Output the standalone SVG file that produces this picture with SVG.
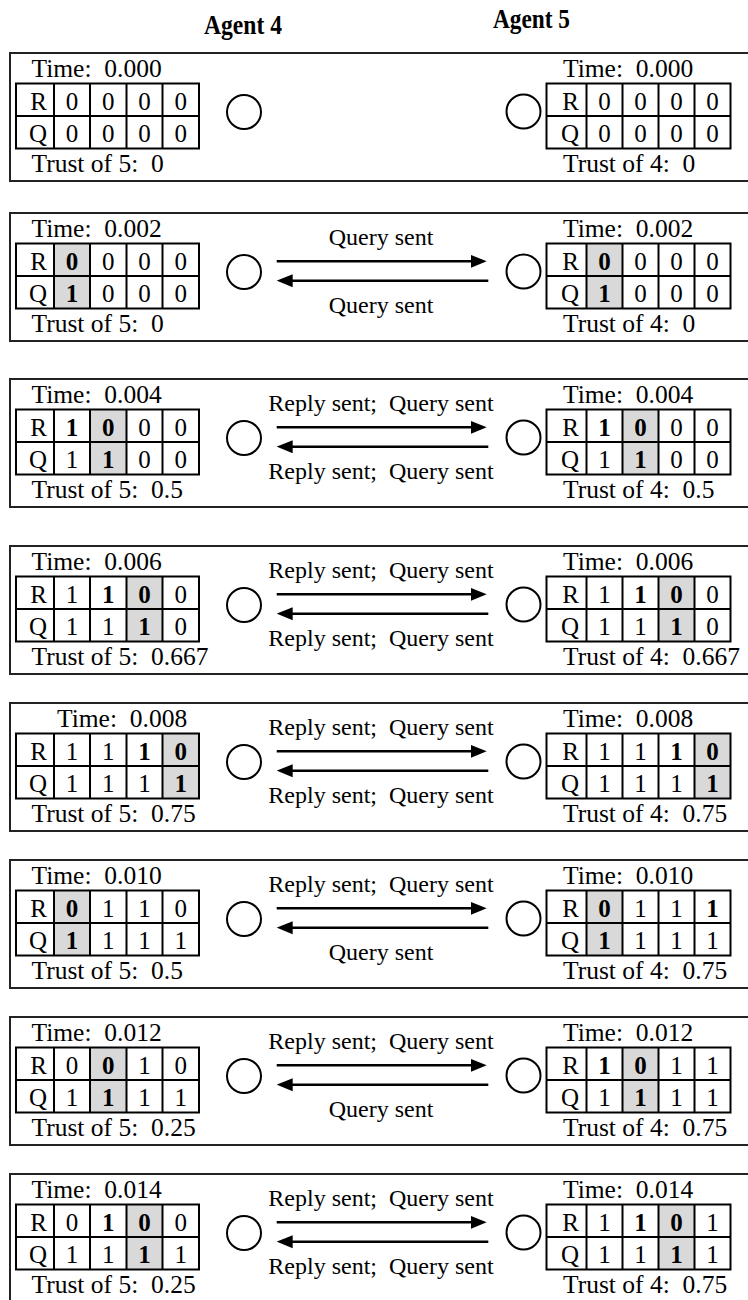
<svg xmlns="http://www.w3.org/2000/svg" xmlns:xlink="http://www.w3.org/1999/xlink" width="748" height="1300" viewBox="0 0 748 1300">
<style>
text{font-family:"Liberation Serif","Times New Roman",serif;fill:#000;white-space:pre}
.t{font-size:25.5px}
.c{font-size:25px;text-anchor:middle}
.lbl{font-size:25px;text-anchor:end}
.b{font-weight:bold}
.h{font-size:28px;font-weight:bold}
.lab{font-size:24px;text-anchor:middle}
.frame{fill:none;stroke:#222;stroke-width:2}
.grid{fill:none;stroke:#000;stroke-width:2}
.sh{fill:#d9d9d9}
.node{fill:#fff;stroke:#000;stroke-width:2}
.arr{stroke:#000;stroke-width:2.5;fill:none;marker-end:url(#ah)}
</style>
<defs>
<marker id="ah" markerUnits="userSpaceOnUse" markerWidth="16" markerHeight="14" viewBox="0 0 16 14" refX="6" refY="7" orient="auto"><path d="M0,0.5 L16,7 L0,13.5 z" fill="#000"/></marker>
<g id="gridL" class="grid"><rect x="16" y="30.5" width="183" height="65"/><path d="M16,63H199M54,30.5V95.5M90,30.5V95.5M126.5,30.5V95.5M162.5,30.5V95.5"/></g>
<g id="gridR" class="grid"><rect x="546.5" y="30.5" width="184" height="65"/><path d="M546.5,63H730.5M586.5,30.5V95.5M622.5,30.5V95.5M658.5,30.5V95.5M694.5,30.5V95.5"/></g>
<circle id="circL" class="node" cx="244" cy="59" r="17"/>
<circle id="circR" class="node" cx="523.5" cy="58.5" r="17"/>
</defs>
<rect width="748" height="1300" fill="#fff"/>
<g id="headings">
<text class="h" x="204" y="34" textLength="78" lengthAdjust="spacingAndGlyphs">Agent 4</text>
<text class="h" x="493" y="28" textLength="77" lengthAdjust="spacingAndGlyphs">Agent 5</text>
</g>

<g id="panel-1" transform="translate(0,53)">
<rect class="frame" x="10" y="0" width="760" height="128"/>
<g id="p1-agent4">
<use xlink:href="#gridL"/>
<text class="t" x="31.5" y="24">Time:  0.000</text>
<text class="lbl" x="47" y="56.5">R</text><text class="lbl" x="47" y="89">Q</text>
<text class="c" x="72 108.25 144.5 180.75" y="56.5">0000</text>
<text class="c" x="72 108.25 144.5 180.75" y="89">0000</text>
<text class="t" x="31.5" y="119">Trust of 5:  0</text>
<use xlink:href="#circL"/>
</g>
<g id="p1-agent5">
<use xlink:href="#gridR"/>
<text class="t" x="563" y="24">Time:  0.000</text>
<text class="lbl" x="579" y="56.5">R</text><text class="lbl" x="579" y="89">Q</text>
<text class="c" x="604.5 640.5 676.5 712.5" y="56.5">0000</text>
<text class="c" x="604.5 640.5 676.5 712.5" y="89">0000</text>
<text class="t" x="563" y="119">Trust of 4:  0</text>
<use xlink:href="#circR"/>
</g>
</g>

<g id="panel-2" transform="translate(0,213)">
<rect class="frame" x="10" y="0" width="760" height="128"/>
<g id="p2-agent4">
<rect class="sh" x="54" y="30.5" width="36" height="65"/>
<use xlink:href="#gridL"/>
<text class="t" x="31.5" y="24">Time:  0.002</text>
<text class="lbl" x="47" y="56.5">R</text><text class="lbl" x="47" y="89">Q</text>
<text class="c" x="72 108.25 144.5 180.75" y="56.5"><tspan class="b">0</tspan>000</text>
<text class="c" x="72 108.25 144.5 180.75" y="89"><tspan class="b">1</tspan>000</text>
<text class="t" x="31.5" y="119">Trust of 5:  0</text>
<use xlink:href="#circL"/>
</g>
<g id="p2-agent5">
<rect class="sh" x="586.5" y="30.5" width="36" height="65"/>
<use xlink:href="#gridR"/>
<text class="t" x="563" y="24">Time:  0.002</text>
<text class="lbl" x="579" y="56.5">R</text><text class="lbl" x="579" y="89">Q</text>
<text class="c" x="604.5 640.5 676.5 712.5" y="56.5"><tspan class="b">0</tspan>000</text>
<text class="c" x="604.5 640.5 676.5 712.5" y="89"><tspan class="b">1</tspan>000</text>
<text class="t" x="563" y="119">Trust of 4:  0</text>
<use xlink:href="#circR"/>
</g>
</g>

<g id="panel-3" transform="translate(0,379)">
<rect class="frame" x="10" y="0" width="760" height="128"/>
<g id="p3-agent4">
<rect class="sh" x="90" y="30.5" width="36.5" height="65"/>
<use xlink:href="#gridL"/>
<text class="t" x="31.5" y="24">Time:  0.004</text>
<text class="lbl" x="47" y="56.5">R</text><text class="lbl" x="47" y="89">Q</text>
<text class="c" x="72 108.25 144.5 180.75" y="56.5"><tspan class="b">10</tspan>00</text>
<text class="c" x="72 108.25 144.5 180.75" y="89">1<tspan class="b">1</tspan>00</text>
<text class="t" x="31.5" y="119">Trust of 5:  0.5</text>
<use xlink:href="#circL"/>
</g>
<g id="p3-agent5">
<rect class="sh" x="622.5" y="30.5" width="36" height="65"/>
<use xlink:href="#gridR"/>
<text class="t" x="563" y="24">Time:  0.004</text>
<text class="lbl" x="579" y="56.5">R</text><text class="lbl" x="579" y="89">Q</text>
<text class="c" x="604.5 640.5 676.5 712.5" y="56.5"><tspan class="b">10</tspan>00</text>
<text class="c" x="604.5 640.5 676.5 712.5" y="89">1<tspan class="b">1</tspan>00</text>
<text class="t" x="563" y="119">Trust of 4:  0.5</text>
<use xlink:href="#circR"/>
</g>
</g>

<g id="panel-4" transform="translate(0,546)">
<rect class="frame" x="10" y="0" width="760" height="128"/>
<g id="p4-agent4">
<rect class="sh" x="126.5" y="30.5" width="36" height="65"/>
<use xlink:href="#gridL"/>
<text class="t" x="31.5" y="24">Time:  0.006</text>
<text class="lbl" x="47" y="56.5">R</text><text class="lbl" x="47" y="89">Q</text>
<text class="c" x="72 108.25 144.5 180.75" y="56.5">1<tspan class="b">10</tspan>0</text>
<text class="c" x="72 108.25 144.5 180.75" y="89">11<tspan class="b">1</tspan>0</text>
<text class="t" x="31.5" y="119">Trust of 5:  0.667</text>
<use xlink:href="#circL"/>
</g>
<g id="p4-agent5">
<rect class="sh" x="658.5" y="30.5" width="36" height="65"/>
<use xlink:href="#gridR"/>
<text class="t" x="563" y="24">Time:  0.006</text>
<text class="lbl" x="579" y="56.5">R</text><text class="lbl" x="579" y="89">Q</text>
<text class="c" x="604.5 640.5 676.5 712.5" y="56.5">1<tspan class="b">10</tspan>0</text>
<text class="c" x="604.5 640.5 676.5 712.5" y="89">11<tspan class="b">1</tspan>0</text>
<text class="t" x="563" y="119">Trust of 4:  0.667</text>
<use xlink:href="#circR"/>
</g>
</g>

<g id="panel-5" transform="translate(0,703)">
<rect class="frame" x="10" y="0" width="760" height="128"/>
<g id="p5-agent4">
<rect class="sh" x="162.5" y="30.5" width="36.5" height="65"/>
<use xlink:href="#gridL"/>
<text class="t" x="57" y="24">Time:  0.008</text>
<text class="lbl" x="47" y="56.5">R</text><text class="lbl" x="47" y="89">Q</text>
<text class="c" x="72 108.25 144.5 180.75" y="56.5">11<tspan class="b">10</tspan></text>
<text class="c" x="72 108.25 144.5 180.75" y="89">111<tspan class="b">1</tspan></text>
<text class="t" x="31.5" y="119">Trust of 5:  0.75</text>
<use xlink:href="#circL"/>
</g>
<g id="p5-agent5">
<rect class="sh" x="694.5" y="30.5" width="36" height="65"/>
<use xlink:href="#gridR"/>
<text class="t" x="563" y="24">Time:  0.008</text>
<text class="lbl" x="579" y="56.5">R</text><text class="lbl" x="579" y="89">Q</text>
<text class="c" x="604.5 640.5 676.5 712.5" y="56.5">11<tspan class="b">10</tspan></text>
<text class="c" x="604.5 640.5 676.5 712.5" y="89">111<tspan class="b">1</tspan></text>
<text class="t" x="563" y="119">Trust of 4:  0.75</text>
<use xlink:href="#circR"/>
</g>
</g>

<g id="panel-6" transform="translate(0,860)">
<rect class="frame" x="10" y="0" width="760" height="128"/>
<g id="p6-agent4">
<rect class="sh" x="54" y="30.5" width="36" height="65"/>
<use xlink:href="#gridL"/>
<text class="t" x="31.5" y="24">Time:  0.010</text>
<text class="lbl" x="47" y="56.5">R</text><text class="lbl" x="47" y="89">Q</text>
<text class="c" x="72 108.25 144.5 180.75" y="56.5"><tspan class="b">0</tspan>110</text>
<text class="c" x="72 108.25 144.5 180.75" y="89"><tspan class="b">1</tspan>111</text>
<text class="t" x="31.5" y="119">Trust of 5:  0.5</text>
<use xlink:href="#circL"/>
</g>
<g id="p6-agent5">
<rect class="sh" x="586.5" y="30.5" width="36" height="65"/>
<use xlink:href="#gridR"/>
<text class="t" x="563" y="24">Time:  0.010</text>
<text class="lbl" x="579" y="56.5">R</text><text class="lbl" x="579" y="89">Q</text>
<text class="c" x="604.5 640.5 676.5 712.5" y="56.5"><tspan class="b">0</tspan>11<tspan class="b">1</tspan></text>
<text class="c" x="604.5 640.5 676.5 712.5" y="89"><tspan class="b">1</tspan>111</text>
<text class="t" x="563" y="119">Trust of 4:  0.75</text>
<use xlink:href="#circR"/>
</g>
</g>

<g id="panel-7" transform="translate(0,1017)">
<rect class="frame" x="10" y="0" width="760" height="128"/>
<g id="p7-agent4">
<rect class="sh" x="90" y="30.5" width="36.5" height="65"/>
<use xlink:href="#gridL"/>
<text class="t" x="31.5" y="24">Time:  0.012</text>
<text class="lbl" x="47" y="56.5">R</text><text class="lbl" x="47" y="89">Q</text>
<text class="c" x="72 108.25 144.5 180.75" y="56.5">0<tspan class="b">0</tspan>10</text>
<text class="c" x="72 108.25 144.5 180.75" y="89">1<tspan class="b">1</tspan>11</text>
<text class="t" x="31.5" y="119">Trust of 5:  0.25</text>
<use xlink:href="#circL"/>
</g>
<g id="p7-agent5">
<rect class="sh" x="622.5" y="30.5" width="36" height="65"/>
<use xlink:href="#gridR"/>
<text class="t" x="563" y="24">Time:  0.012</text>
<text class="lbl" x="579" y="56.5">R</text><text class="lbl" x="579" y="89">Q</text>
<text class="c" x="604.5 640.5 676.5 712.5" y="56.5"><tspan class="b">10</tspan>11</text>
<text class="c" x="604.5 640.5 676.5 712.5" y="89">1<tspan class="b">1</tspan>11</text>
<text class="t" x="563" y="119">Trust of 4:  0.75</text>
<use xlink:href="#circR"/>
</g>
</g>

<g id="panel-8" transform="translate(0,1174)">
<rect class="frame" x="10" y="0" width="760" height="128"/>
<g id="p8-agent4">
<rect class="sh" x="126.5" y="30.5" width="36" height="65"/>
<use xlink:href="#gridL"/>
<text class="t" x="31.5" y="24">Time:  0.014</text>
<text class="lbl" x="47" y="56.5">R</text><text class="lbl" x="47" y="89">Q</text>
<text class="c" x="72 108.25 144.5 180.75" y="56.5">0<tspan class="b">10</tspan>0</text>
<text class="c" x="72 108.25 144.5 180.75" y="89">11<tspan class="b">1</tspan>1</text>
<text class="t" x="31.5" y="119">Trust of 5:  0.25</text>
<use xlink:href="#circL"/>
</g>
<g id="p8-agent5">
<rect class="sh" x="658.5" y="30.5" width="36" height="65"/>
<use xlink:href="#gridR"/>
<text class="t" x="563" y="24">Time:  0.014</text>
<text class="lbl" x="579" y="56.5">R</text><text class="lbl" x="579" y="89">Q</text>
<text class="c" x="604.5 640.5 676.5 712.5" y="56.5">1<tspan class="b">10</tspan>1</text>
<text class="c" x="604.5 640.5 676.5 712.5" y="89">11<tspan class="b">1</tspan>1</text>
<text class="t" x="563" y="119">Trust of 4:  0.75</text>
<use xlink:href="#circR"/>
</g>
</g>

<g id="connectors">
<g id="c2"><line class="arr" x1="276.7" y1="261.3" x2="476.7" y2="261.3"/><line class="arr" x1="488.3" y1="280.7" x2="286.7" y2="280.7"/>
<text class="lab" x="381" y="244.7">Query sent</text><text class="lab" x="381" y="312.5">Query sent</text></g>
<g id="c3"><line class="arr" x1="276.7" y1="427.3" x2="476.7" y2="427.3"/><line class="arr" x1="488.3" y1="446.7" x2="286.7" y2="446.7"/>
<text class="lab" x="381" y="410.7">Reply sent;  Query sent</text><text class="lab" x="381" y="478.5">Reply sent;  Query sent</text></g>
<g id="c4"><line class="arr" x1="276.7" y1="594.3" x2="476.7" y2="594.3"/><line class="arr" x1="488.3" y1="613.7" x2="286.7" y2="613.7"/>
<text class="lab" x="381" y="577.7">Reply sent;  Query sent</text><text class="lab" x="381" y="645.5">Reply sent;  Query sent</text></g>
<g id="c5"><line class="arr" x1="276.7" y1="751.3" x2="476.7" y2="751.3"/><line class="arr" x1="488.3" y1="770.7" x2="286.7" y2="770.7"/>
<text class="lab" x="381" y="734.7">Reply sent;  Query sent</text><text class="lab" x="381" y="802.5">Reply sent;  Query sent</text></g>
<g id="c6"><line class="arr" x1="276.7" y1="908.3" x2="476.7" y2="908.3"/><line class="arr" x1="488.3" y1="927.7" x2="286.7" y2="927.7"/>
<text class="lab" x="381" y="891.7">Reply sent;  Query sent</text><text class="lab" x="381" y="959.5">Query sent</text></g>
<g id="c7"><line class="arr" x1="276.7" y1="1065.3" x2="476.7" y2="1065.3"/><line class="arr" x1="488.3" y1="1084.7" x2="286.7" y2="1084.7"/>
<text class="lab" x="381" y="1048.7">Reply sent;  Query sent</text><text class="lab" x="381" y="1116.5">Query sent</text></g>
<g id="c8"><line class="arr" x1="276.7" y1="1222.3" x2="476.7" y2="1222.3"/><line class="arr" x1="488.3" y1="1241.7" x2="286.7" y2="1241.7"/>
<text class="lab" x="381" y="1205.7">Reply sent;  Query sent</text><text class="lab" x="381" y="1273.5">Reply sent;  Query sent</text></g>
</g>
</svg>
